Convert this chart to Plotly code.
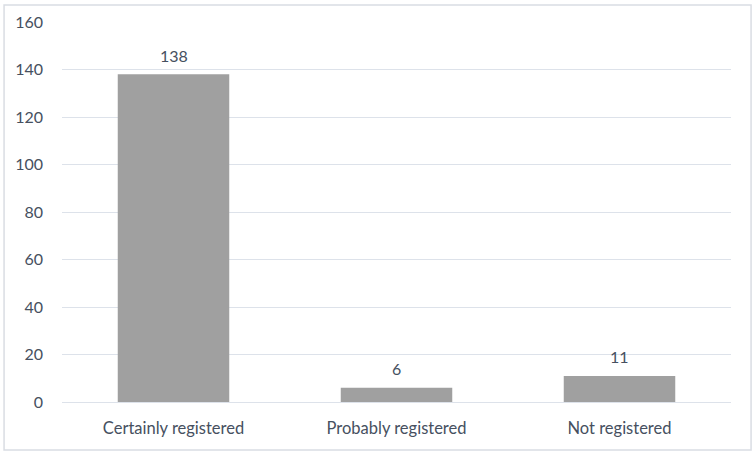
import plotly.graph_objects as go

categories = ["Certainly registered", "Probably registered", "Not registered"]
values = [138, 6, 11]
y_ticks = [0, 20, 40, 60, 80, 100, 120, 140, 160]

font_color = "#465060"

fig = go.Figure(go.Bar(
    x=categories,
    y=values,
    marker=dict(color="#a0a0a0", line=dict(width=0)),
    width=0.5,
))

for c, v in zip(categories, values):
    fig.add_annotation(x=c, y=v, text=str(v), showarrow=False, yshift=19,
                       font=dict(size=16, color=font_color, family="Lato"))

fig.update_layout(
    width=755, height=454,
    margin=dict(l=62, r=24, t=22, b=52),
    paper_bgcolor="white",
    plot_bgcolor="white",
    font=dict(family="Lato", size=16, color=font_color),
    showlegend=False,
    xaxis=dict(showgrid=False, showline=False, ticks="", tickfont=dict(size=16.5),
               ticklabelstandoff=14),
    yaxis=dict(range=[0, 160], tickvals=y_ticks, showgrid=True, gridcolor="#dde2ea",
               gridwidth=1.3, zeroline=True, zerolinecolor="#dde2ea", zerolinewidth=1.3,
               showline=False, ticks="", ticklabelstandoff=18, tickfont=dict(size=16)),
    shapes=[dict(type="rect", xref="paper", yref="paper",
                 x0=-0.0866, x1=1.03, y0=-0.126, y1=1.045,
                 line=dict(color="#d9dde3", width=1.5), fillcolor="rgba(0,0,0,0)", layer="below")],
)

fig.write_html("out.html", config={"displayModeBar": False},
               post_script="document.body.style.margin='0';document.body.style.padding='0';")
